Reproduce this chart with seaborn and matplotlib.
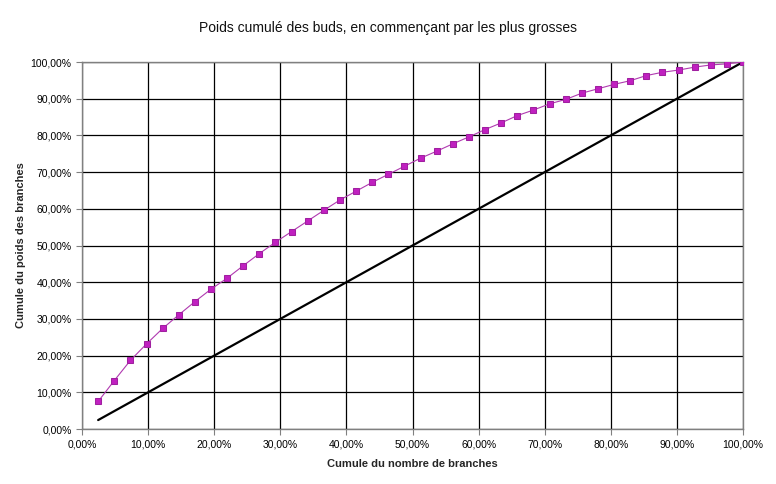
import matplotlib
matplotlib.use("Agg")
import matplotlib.pyplot as plt
import seaborn as sns
import pandas as pd
from matplotlib.ticker import FuncFormatter, MultipleLocator

# cumul du nombre de branches (%)
nombre = [2.44, 4.88, 7.32, 9.76, 12.20, 14.63, 17.07, 19.51, 21.95, 24.39,
          26.83, 29.27, 31.71, 34.15, 36.59, 39.02, 41.46, 43.90, 46.34, 48.78,
          51.22, 53.66, 56.10, 58.54, 60.98, 63.41, 65.85, 68.29, 70.73, 73.17,
          75.61, 78.05, 80.49, 82.93, 85.37, 87.80, 90.24, 92.68, 95.12, 97.56,
          100.00]
# cumul du poids des branches (%)
poids = [7.5, 13.2, 18.7, 23.2, 27.4, 31.1, 34.7, 38.1, 41.1, 44.5,
         47.8, 50.9, 53.8, 56.7, 59.6, 62.4, 64.8, 67.2, 69.4, 71.6,
         73.8, 75.7, 77.7, 79.6, 81.6, 83.4, 85.4, 86.9, 88.6, 89.8,
         91.5, 92.7, 93.9, 94.9, 96.3, 97.2, 97.8, 98.6, 99.2, 99.5,
         100.0]
# droite d'egalite
egalite = list(nombre)

df = pd.DataFrame({"nombre": nombre, "poids": poids, "egalite": egalite})

sns.set_theme(style="white")
plt.rcParams["font.family"] = ["Liberation Sans", "DejaVu Sans"]

fig = plt.figure(figsize=(7.76, 4.84), dpi=100)
ax = fig.add_axes([0.1057, 0.1136, 0.8518, 0.7583])

sns.lineplot(data=df, x="nombre", y="egalite", ax=ax, color="black",
             linewidth=1.6, zorder=3)
sns.lineplot(data=df, x="nombre", y="poids", ax=ax, color="#B03AB0",
             linewidth=0.8, marker="s", markersize=4.2,
             markerfacecolor="#C020C0", markeredgecolor="#A020A0", zorder=4)

ax.set_xlim(0, 100)
ax.set_ylim(0, 100)
ax.xaxis.set_major_locator(MultipleLocator(10))
ax.yaxis.set_major_locator(MultipleLocator(10))
fmt = FuncFormatter(lambda v, p: ("%.2f%%" % v).replace(".", ","))
ax.xaxis.set_major_formatter(fmt)
ax.yaxis.set_major_formatter(fmt)

ax.grid(True, color="black", linewidth=0.9)
ax.set_axisbelow(True)
for s in ax.spines.values():
    s.set_color("#808080")
    s.set_linewidth(1.0)

ax.tick_params(axis="both", labelsize=7.5, colors="black", length=4,
               width=0.8, direction="out", bottom=True, left=True)
ax.tick_params(axis="both", color="#808080")

ax.set_xlabel("Cumule du nombre de branches", fontsize=8, fontweight="bold",
              labelpad=7)
ax.set_ylabel("Cumule du poids des branches", fontsize=8, fontweight="bold",
              labelpad=3)
fig.text(0.5, 0.942, "Poids cumulé des buds, en commençant par les plus grosses",
         ha="center", va="center", fontsize=10, color="#111111")

fig.savefig("out.png", dpi=100, facecolor="white")
